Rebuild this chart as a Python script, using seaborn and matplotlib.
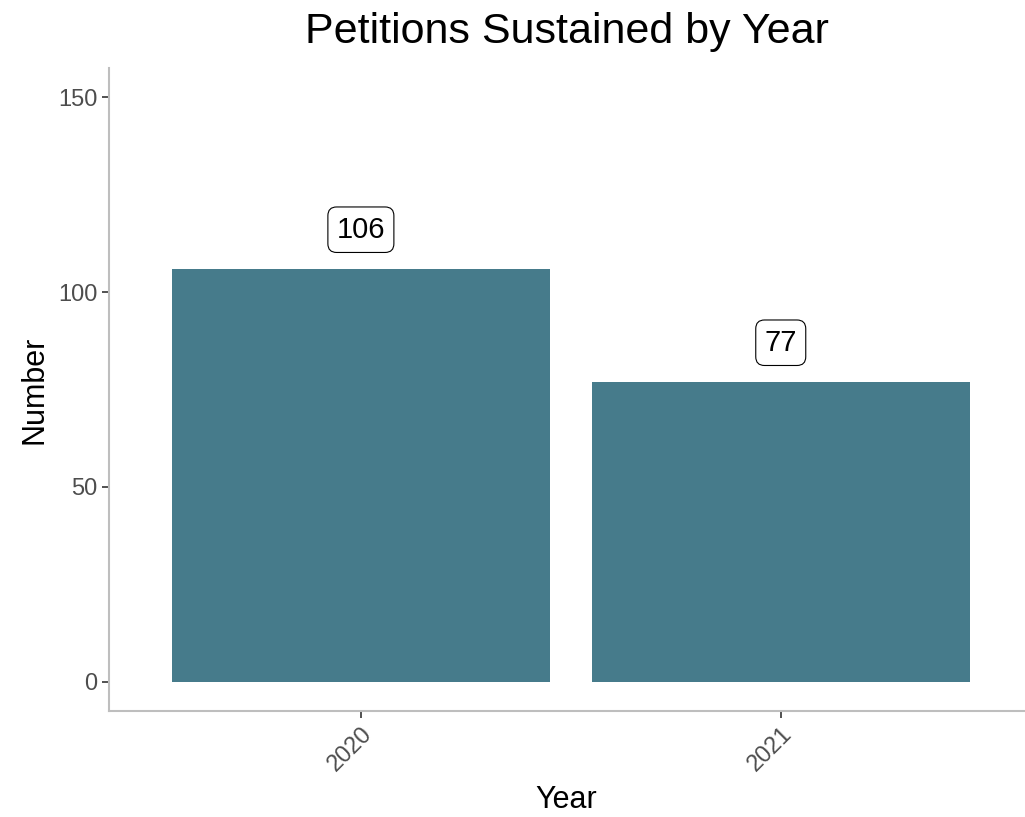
import pandas as pd
import seaborn as sns
import matplotlib.pyplot as plt

years = ['2020', '2021']
counts = [106, 77]

df = pd.DataFrame({'Year': years, 'Number': counts})

sns.set_style('white')
plt.rcParams['font.family'] = ['Liberation Sans', 'DejaVu Sans']

fig = plt.figure(figsize=(10.25, 8.17), dpi=100)
ax = fig.add_axes([0.1063, 0.1297, 0.893, 0.7871])

sns.barplot(data=df, x='Year', y='Number', color='#467b8b', saturation=1,
            width=0.9, linewidth=0, ax=ax)

for i, v in enumerate(counts):
    ax.text(i, v + 10, str(v), ha='center', va='center', fontsize=21,
            color='black',
            bbox=dict(boxstyle='round,pad=0.3,rounding_size=0.3',
                      fc='white', ec='black', lw=0.8))

ax.set_xlim(-0.6, 1.58)
ax.set_ylim(-7.5, 157.5)
ax.set_yticks([0, 50, 100, 150])
ax.tick_params(axis='both', length=5, width=1.2, color='#333333',
               labelsize=17, labelcolor='#4d4d4d', direction='out')
ax.tick_params(axis='both', bottom=True, left=True)
plt.setp(ax.get_xticklabels(), rotation=45, ha='right', rotation_mode='anchor')
for s in ['top', 'right']:
    ax.spines[s].set_visible(False)
for s in ['left', 'bottom']:
    ax.spines[s].set_color('#bebebe')
    ax.spines[s].set_linewidth(1.5)

ax.set_xlabel('Year', fontsize=22, labelpad=7, color='black')
ax.set_ylabel('Number', fontsize=22, labelpad=6, color='black')
ax.set_title('Petitions Sustained by Year', fontsize=31, pad=18, color='black')

fig.savefig('out.png', dpi=100)
